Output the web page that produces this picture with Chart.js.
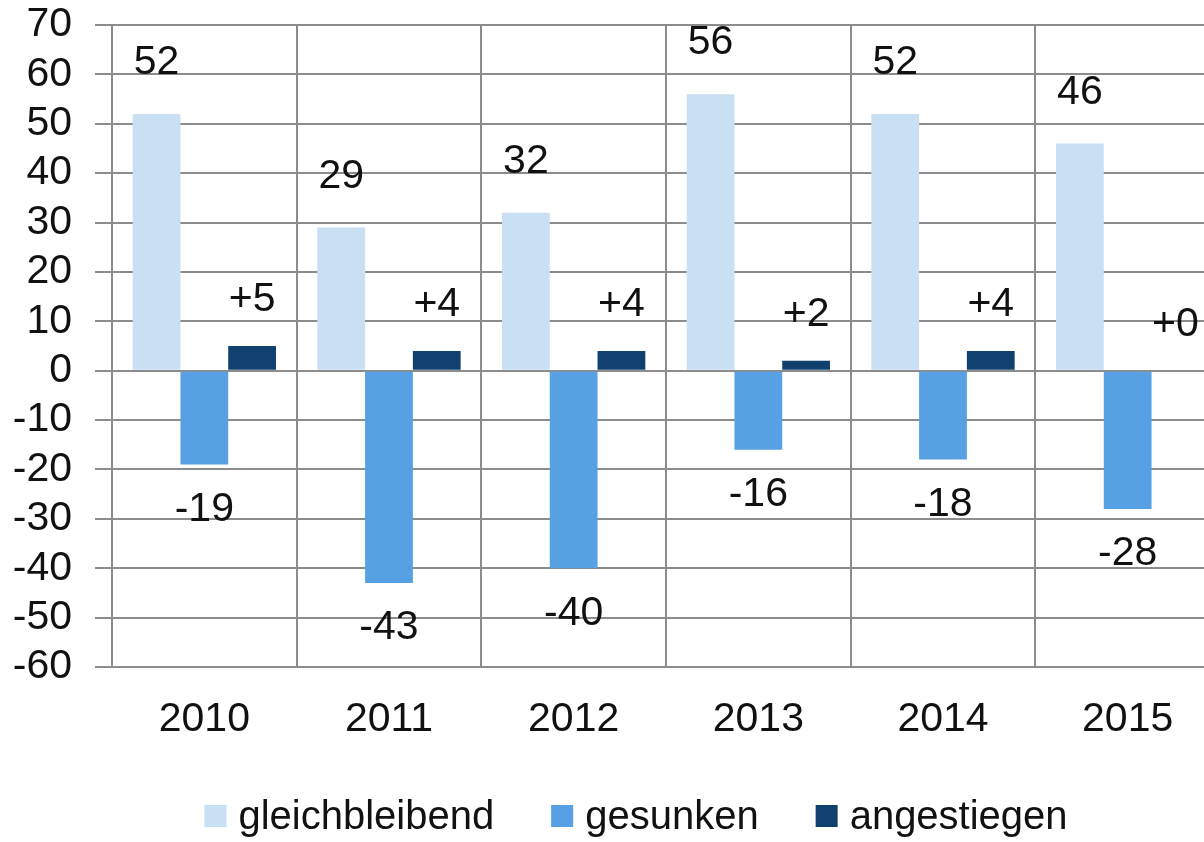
<!DOCTYPE html>
<html>
<head>
    <title>gleichbleibend / gesunken / angestiegen</title>
    <meta charset="UTF-8">
    <script src="https://cdn.jsdelivr.net/npm/chart.js@4.4.1/dist/chart.umd.min.js"></script>
    <style>
        html, body { margin: 0; padding: 0; background: #fff; overflow: hidden; }
        canvas { display: block; }
    </style>
</head>
<body>
    <canvas id="myChart" width="1224" height="842"></canvas>
    <script>
        let years = ['2010', '2011', '2012', '2013', '2014', '2015'];
        let gleich = [52, 29, 32, 56, 52, 46];
        let gesunken = [-19, -43, -40, -16, -18, -28];
        let gestiegen = [5, 4, 4, 2, 4, 0];
        let seriesNames = ['gleichbleibend', 'gesunken', 'angestiegen'];
        let yTicks = [70, 60, 50, 40, 30, 20, 10, 0, -10, -20, -30, -40, -50, -60];

        const FONT = '"Liberation Sans", Arial, Helvetica, sans-serif';
        const GRID = '#8c8c8c';

        // value labels above / below each bar
        const valueLabels = {
            id: 'valueLabels',
            afterDatasetsDraw(chart) {
                const ctx = chart.ctx;
                ctx.save();
                ctx.font = '41px ' + FONT;
                ctx.fillStyle = '#111';
                ctx.textAlign = 'center';
                ctx.textBaseline = 'middle';
                chart.data.datasets.forEach((ds, i) => {
                    chart.getDatasetMeta(i).data.forEach((bar, j) => {
                        let v = ds.data[j];
                        let txt = (ds.prefix && v >= 0 ? ds.prefix : '') + v;
                        let y = v >= 0 ? bar.y - ds.labelGap : bar.y + ds.labelGap;
                        ctx.fillText(txt, bar.x, y);
                    });
                });
                ctx.restore();
            }
        };

        // legend row at the bottom
        const bottomLegend = {
            id: 'bottomLegend',
            afterDraw(chart) {
                const ctx = chart.ctx;
                ctx.save();
                ctx.font = '40px ' + FONT;
                const box = 22, gap = 12, spacing = 57;
                let items = chart.data.datasets.map(ds => ({
                    text: ds.label, color: ds.backgroundColor, w: ctx.measureText(ds.label).width
                }));
                let total = items.reduce((s, it) => s + box + gap + it.w, 0) + spacing * (items.length - 1);
                let x = chart.width / 2 + 24 - total / 2;
                let baseline = 829;
                items.forEach(it => {
                    ctx.fillStyle = it.color;
                    ctx.fillRect(x, baseline - 24, box, box);
                    ctx.fillStyle = '#111';
                    ctx.textAlign = 'left';
                    ctx.textBaseline = 'alphabetic';
                    ctx.fillText(it.text, x + box + gap, baseline);
                    x += box + gap + it.w + spacing;
                });
                ctx.restore();
            }
        };

        var ctx = document.getElementById('myChart').getContext('2d');
        var myChart = new Chart(ctx, {
            type: 'bar',
            data: {
                labels: years,
                datasets: [{
                    label: seriesNames[0],
                    data: gleich,
                    backgroundColor: '#c9dff4',
                    labelGap: 51
                }, {
                    label: seriesNames[1],
                    data: gesunken,
                    backgroundColor: '#56a0e3',
                    labelGap: 45
                }, {
                    label: seriesNames[2],
                    data: gestiegen,
                    backgroundColor: '#0f406e',
                    labelGap: 46,
                    prefix: '+'
                }]
            },
            options: {
                responsive: false,
                animation: false,
                layout: { padding: { top: 25, right: 4, bottom: 98, left: 0 } },
                datasets: {
                    bar: { categoryPercentage: 0.776, barPercentage: 1.0 }
                },
                plugins: {
                    legend: { display: false },
                    tooltip: { enabled: false }
                },
                scales: {
                    x: {
                        afterFit(scale) {
                            scale.height = 77;
                            scale.paddingLeft = 0;
                            scale.paddingRight = 0;
                        },
                        grid: { color: GRID, lineWidth: 2, offset: true, drawTicks: false },
                        border: { color: GRID, width: 2 },
                        ticks: { color: '#111', font: { family: FONT, size: 41 }, padding: 28, autoSkip: false, maxRotation: 0 }
                    },
                    y: {
                        min: yTicks[yTicks.length - 1],
                        max: yTicks[0],
                        afterFit(scale) {
                            scale.width = 112;
                            scale.paddingTop = 0;
                            scale.paddingBottom = 0;
                        },
                        afterBuildTicks(scale) {
                            scale.ticks = yTicks.slice().reverse().map(v => ({ value: v }));
                        },
                        grid: { color: GRID, lineWidth: 2, tickLength: 17 },
                        border: { color: GRID, width: 2 },
                        ticks: { color: '#111', font: { family: FONT, size: 41 }, padding: 23, autoSkip: false }
                    }
                }
            },
            plugins: [valueLabels, bottomLegend]
        });
    </script>
</body>
</html>
